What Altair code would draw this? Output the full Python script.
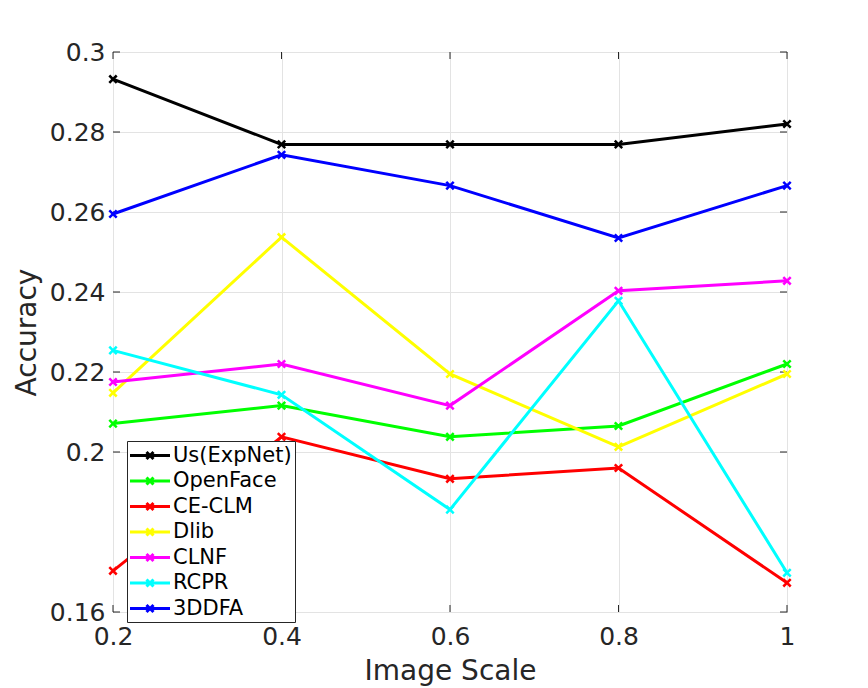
import altair as alt
import pandas as pd

scales = [0.2, 0.4, 0.6, 0.8, 1.0]
series = ["Us(ExpNet)", "OpenFace", "CE-CLM", "Dlib", "CLNF", "RCPR", "3DDFA"]
colors = ["#000000", "#00FF00", "#FF0000", "#FFFF00", "#FF00FF", "#00FFFF", "#0000FF"]

us_expnet = [0.2932, 0.2769, 0.2769, 0.2769, 0.2820]
openface = [0.2071, 0.2116, 0.2038, 0.2065, 0.2220]
ce_clm = [0.1703, 0.2038, 0.1933, 0.1960, 0.1673]
dlib = [0.2148, 0.2537, 0.2195, 0.2013, 0.2195]
clnf = [0.2175, 0.2220, 0.2116, 0.2403, 0.2428]
rcpr = [0.2254, 0.2143, 0.1856, 0.2378, 0.1698]
ddfa = [0.2595, 0.2743, 0.2666, 0.2535, 0.2666]

y_ticks = [0.16, 0.2, 0.22, 0.24, 0.26, 0.28, 0.3]
x_ticks = [0.2, 0.4, 0.6, 0.8, 1.0]

values = [us_expnet, openface, ce_clm, dlib, clnf, rcpr, ddfa]
rows = []
for name, vals in zip(series, values):
    for xs, v in zip(scales, vals):
        rows.append({"series": name, "scale": xs, "acc": v})
df = pd.DataFrame(rows)
ytick_df = pd.DataFrame({"t": y_ticks})
xtick_df = pd.DataFrame({"t": x_ticks})

FONT = "DejaVu Sans"
AX = "#262626"
XMARK = "M-1,-1L1,1M-1,1L1,-1"
LEG_SYM = "M-2,0H2M-0.35,-0.35L0.35,0.35M-0.35,0.35L0.35,-0.35"

xscale = alt.Scale(domain=[0.2, 1.0], nice=False, zero=False)
yscale = alt.Scale(domain=[0.16, 0.3], nice=False, zero=False)

x_enc = alt.X("scale:Q", scale=xscale,
              axis=alt.Axis(values=x_ticks, format="~g", title="Image Scale",
                            labelFontSize=25, titleFontSize=28, labelPadding=12,
                            titlePadding=8, ticks=False, grid=True, labelFlush=False))
y_enc = alt.Y("acc:Q", scale=yscale,
              axis=alt.Axis(values=y_ticks, format="~g", title="Accuracy",
                            labelFontSize=25, titleFontSize=28, labelPadding=8,
                            titlePadding=8, ticks=False, grid=True, labelFlush=False))
color_enc = alt.Color("series:N",
                      scale=alt.Scale(domain=series, range=colors),
                      sort=series,
                      legend=alt.Legend(title=None, orient="none", legendX=14, legendY=389,
                                        symbolType=LEG_SYM, symbolSize=400,
                                        symbolStrokeWidth=3, labelFontSize=21,
                                        labelFont=FONT, labelOffset=11.5, symbolOffset=8.5,
                                        rowPadding=3.5, padding=3,
                                        fillColor="white", strokeColor=AX))

base = alt.Chart(df)
lines = base.mark_line(strokeWidth=3).encode(x=x_enc, y=y_enc, color=color_enc,
                                             order="scale:Q")
points = base.mark_point(shape=XMARK, size=55, strokeWidth=2.5, filled=False,
                         opacity=1).encode(
    x="scale:Q", y="acc:Q",
    color=alt.Color("series:N", scale=alt.Scale(domain=series, range=colors), legend=None))

yt_left = alt.Chart(ytick_df).mark_rule(color=AX, strokeWidth=1).encode(
    y=alt.Y("t:Q", scale=yscale), x=alt.value(0), x2=alt.value(7))
yt_right = alt.Chart(ytick_df).mark_rule(color=AX, strokeWidth=1).encode(
    y=alt.Y("t:Q", scale=yscale), x=alt.value(667), x2=alt.value(674))
xt_bot = alt.Chart(xtick_df).mark_rule(color=AX, strokeWidth=1).encode(
    x=alt.X("t:Q", scale=xscale), y=alt.value(553), y2=alt.value(560))
xt_top = alt.Chart(xtick_df).mark_rule(color=AX, strokeWidth=1).encode(
    x=alt.X("t:Q", scale=xscale), y=alt.value(0), y2=alt.value(7))

chart = alt.layer(yt_left, yt_right, xt_bot, xt_top, lines, points).properties(
    width=674, height=560,
    background="white",
    autosize=alt.AutoSizeParams(type="none"),
    padding={"left": 105, "top": 44, "right": 60, "bottom": 76},
).configure_view(stroke=AX, strokeWidth=1).configure_axis(
    labelFont=FONT, titleFont=FONT, labelColor=AX, titleColor=AX,
    gridColor="#e3e3e3", gridWidth=1, domain=False, titleFontWeight="normal"
)

chart.save("out.html", embed_options={"renderer": "svg", "actions": False})
